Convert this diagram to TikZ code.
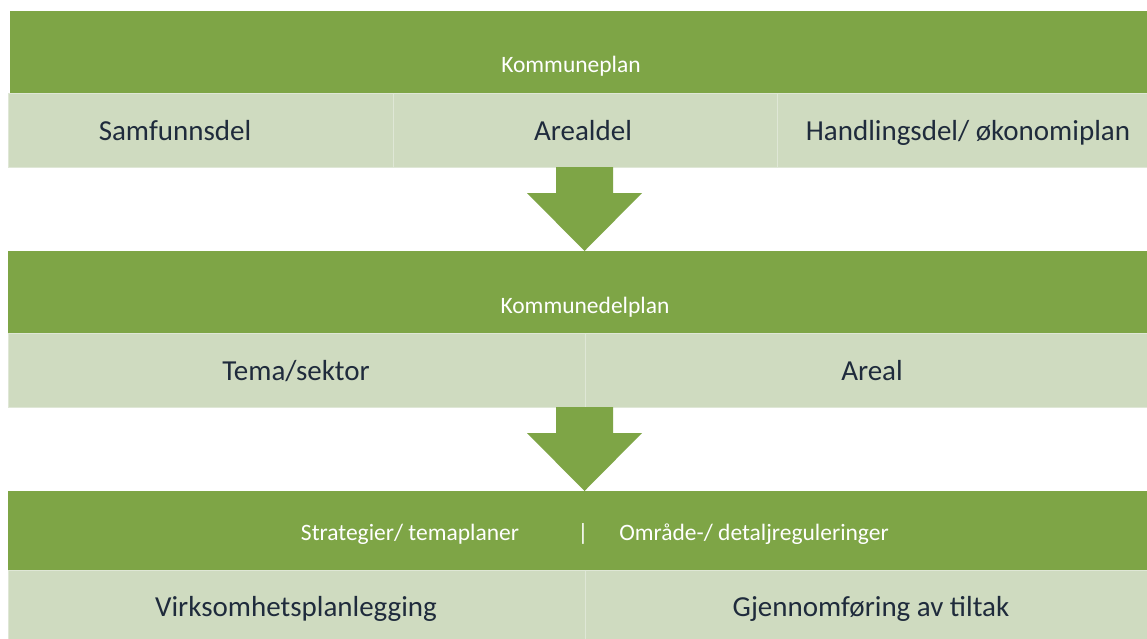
\documentclass[tikz,border=0pt]{standalone}
\usepackage{fontspec}
\setmainfont{Carlito}
\usetikzlibrary{calc}
\definecolor{bandgreen}{HTML}{7EA546}
\definecolor{cellgreen}{HTML}{CFDBC0}
\definecolor{celledge}{HTML}{DFE7D6}
\definecolor{txtdark}{HTML}{1F2B3C}
\tikzset{
  band/.style={rectangle, fill=bandgreen, anchor=north west, inner sep=0pt, outer sep=0pt},
  cell/.style={rectangle, fill=cellgreen, draw=celledge, line width=1pt, anchor=north west, inner sep=0pt, outer sep=0pt},
  headtxt/.style={text=white, font=\fontsize{23.5}{28}\selectfont, inner sep=0pt, anchor=base},
  celltxt/.style={text=txtdark, font=\fontsize{29}{34}\selectfont, inner sep=0pt, anchor=base},
  blockarrow/.style={fill=bandgreen}
}
\begin{document}
\begin{tikzpicture}[x=1pt,y=-1pt]
\useasboundingbox (0,0) rectangle (1147,638);
\fill[white] (0,0) rectangle (1147,638);
% ---- level 1
\node[band, minimum width=1151pt, minimum height=83pt] (h1) at (10,11) {};
\node[cell, minimum width=385pt, minimum height=74pt] (c11) at (8,93) {};
\node[cell, minimum width=384pt, minimum height=74pt] (c12) at (393,93) {};
\node[cell, minimum width=384pt, minimum height=74pt] (c13) at (777,93) {};
\node[headtxt] (t1) at (571,72) {Kommuneplan};
\node[celltxt] (t11) at (175,140) {Samfunnsdel};
\node[celltxt] (t12) at (583,140) {Arealdel};
\node[celltxt] (t13) at (968,140) {Handlingsdel/ økonomiplan};
% ---- level 2
\node[band, minimum width=1153pt, minimum height=82pt] (h2) at (8,251) {};
\node[cell, minimum width=577pt, minimum height=74pt] (c21) at (8,333) {};
\node[cell, minimum width=577pt, minimum height=74pt] (c22) at (585,333) {};
\node[headtxt] (t2) at (585,313) {Kommunedelplan};
\node[celltxt] (t21) at (296,380) {Tema/sektor};
\node[celltxt] (t22) at (872,380) {Areal};
% ---- level 3
\node[band, minimum width=1153pt, minimum height=80pt] (h3) at (8,491) {};
\node[cell, minimum width=577pt, minimum height=80pt] (c31) at (8,570) {};
\node[cell, minimum width=577pt, minimum height=80pt] (c32) at (585,570) {};
\node[headtxt] (t3a) at (410,540) {Strategier/ temaplaner};
\node[headtxt] (t3b) at (583,540) {|};
\node[headtxt] (t3c) at (754,540) {Område-/ detaljreguleringer};
\node[celltxt] (t31) at (296,616) {Virksomhetsplanlegging};
\node[celltxt] (t32) at (871,616) {Gjennomføring av tiltak};
% ---- block arrows
\coordinate (a1s) at (584.5,167);
\coordinate (a1e) at (584.5,251);
\coordinate (a2s) at (584.5,407);
\coordinate (a2e) at (584.5,491);
\foreach \s/\e in {a1s/a1e, a2s/a2e}{
  \fill[blockarrow] ($(\s)+(-28.5,0)$) -- ($(\s)+(28.5,0)$) -- ($(\s)+(28.5,26)$)
    -- ($(\s)+(57.5,26)$) -- (\e) -- ($(\s)+(-57.5,26)$) -- ($(\s)+(-28.5,26)$) -- cycle;
}
\end{tikzpicture}
\end{document}
